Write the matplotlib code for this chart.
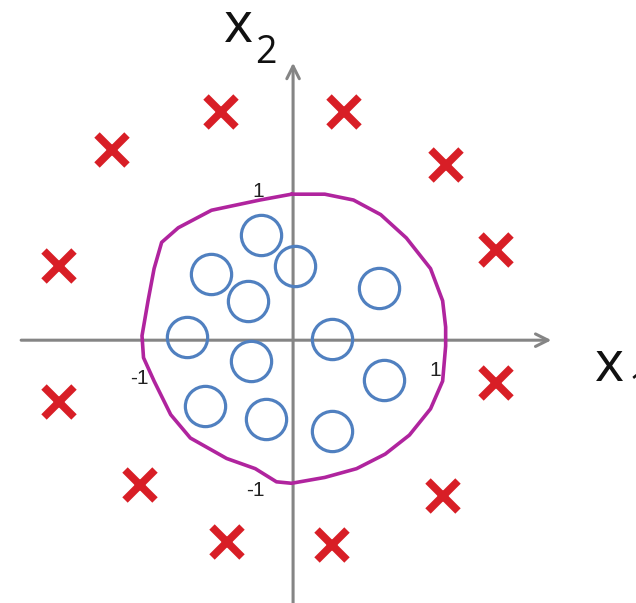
import matplotlib
matplotlib.use("Agg")
import matplotlib.pyplot as plt
import numpy as np

# ---- data ----
cross_x = [-0.48, 0.34, -1.20, 1.01, -1.55, 1.34, -1.55, 1.34, -1.01, 0.99, -0.44, 0.26]
cross_y = [1.56, 1.56, 1.30, 1.20, 0.51, 0.62, -0.42, -0.29, -0.99, -1.07, -1.38, -1.40]

circle_x = [-0.21, 0.01, -0.54, -0.30, 0.57, -0.70, 0.26, -0.28, 0.60, -0.58, -0.18, 0.26]
circle_y = [0.72, 0.51, 0.45, 0.27, 0.36, 0.02, 0.01, -0.14, -0.27, -0.45, -0.54, -0.62]

boundary_x = [-0.01, -0.22, -0.54, -0.76, -0.87, -0.92, -0.96, -1.00, -0.99, -0.92, -0.81,
              -0.68, -0.44, -0.25, -0.11, -0.01, 0.21, 0.42, 0.61, 0.77, 0.91, 0.99, 1.01,
              1.01, 0.99, 0.91, 0.75, 0.58, 0.40, 0.21, -0.01]
boundary_y = [1.00, 0.96, 0.89, 0.77, 0.67, 0.49, 0.27, 0.03, -0.12, -0.28, -0.51,
              -0.67, -0.81, -0.88, -0.97, -0.98, -0.94, -0.88, -0.78, -0.65, -0.47, -0.28, -0.04,
              0.09, 0.27, 0.49, 0.70, 0.86, 0.96, 1.00, 1.00]

tick_labels = ["1", "-1", "1", "-1"]

# ---- figure ----
fig = plt.figure(figsize=(6.36, 6.03), dpi=100)
ax = fig.add_axes([0, 0, 1, 1])
ax.set_xlim(-1.94, 2.27)
ax.set_ylim(-1.80, 2.33)
ax.axis("off")

axis_col = "#858585"
# horizontal axis
ax.annotate("", xy=(1.71, 0), xytext=(-1.80, 0),
            arrowprops=dict(arrowstyle="->,head_length=0.9,head_width=0.45",
                            color=axis_col, lw=2.2, shrinkA=0, shrinkB=0))
# vertical axis
ax.annotate("", xy=(0, 1.90), xytext=(0, -1.85),
            arrowprops=dict(arrowstyle="->,head_length=0.9,head_width=0.45",
                            color=axis_col, lw=2.2, shrinkA=0, shrinkB=0))

# decision boundary
ax.plot(boundary_x, boundary_y, color="#b0249e", lw=2.6, solid_capstyle="round",
        solid_joinstyle="round", zorder=3)

# circles
ax.plot(circle_x, circle_y, linestyle="none", marker="o", markersize=29,
        markerfacecolor="none", markeredgecolor="#5080c0", markeredgewidth=2.3, zorder=4)

# crosses
ax.plot(cross_x, cross_y, linestyle="none", marker="x", markersize=22,
        markeredgecolor="#d81e26", markeredgewidth=5.5, zorder=4)

# axis labels
lab_font = "Open Sans"
ax.text(-0.46, 2.04, "x", fontsize=40, family=lab_font, color="#111111",
        ha="left", va="baseline")
ax.text(-0.25, 1.90, "2", fontsize=27, family=lab_font, color="#111111",
        ha="left", va="baseline")
ax.text(2.00, -0.28, "x", fontsize=40, family=lab_font, color="#111111",
        ha="left", va="baseline")
ax.text(2.22, -0.40, "1", fontsize=27, family=lab_font, color="#111111",
        ha="left", va="baseline")

# tick labels
tick_pos = [(-0.23, 1.02), (-1.02, -0.26), (0.94, -0.21), (-0.25, -1.03)]
for (tx, ty), t in zip(tick_pos, tick_labels):
    ax.text(tx, ty, t, fontsize=15, family="Liberation Sans", color="#222222",
            ha="center", va="center")

fig.savefig("out.png", dpi=100)
